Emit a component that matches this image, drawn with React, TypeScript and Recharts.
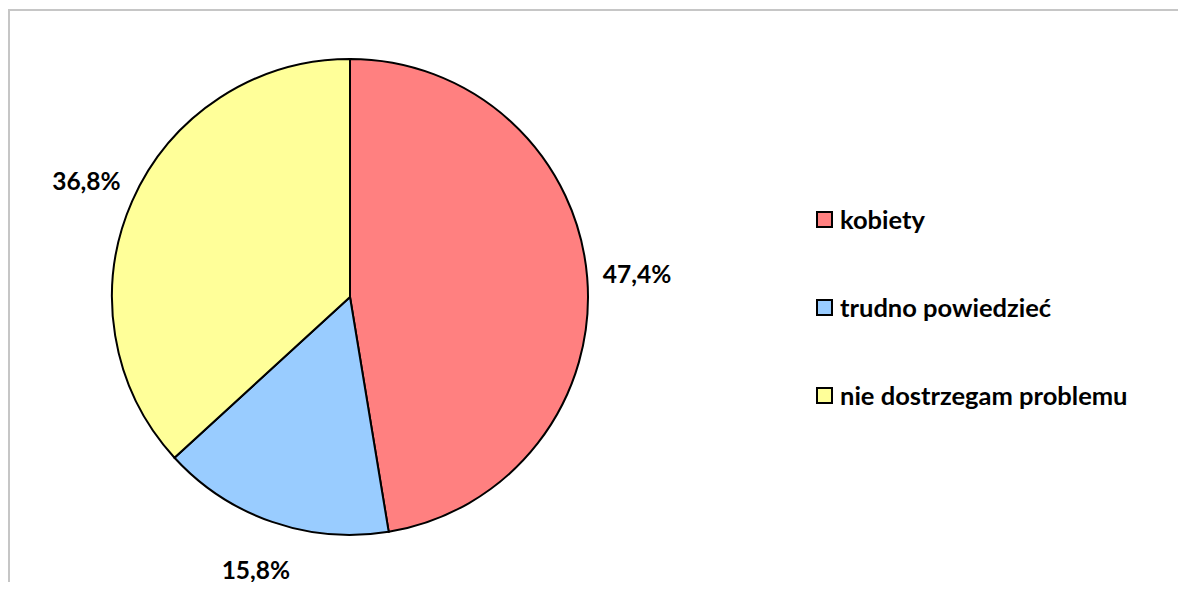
import { PieChart, Pie, Cell, Legend } from "recharts";

const categories = ["kobiety", "trudno powiedzieć", "nie dostrzegam problemu"];
const shares = [47.4, 15.8, 36.8];
const colors = ["#FF8080", "#99CCFF", "#FFFF99"];

const data = categories.map((name, i) => ({ name, value: shares[i] }));

const RAD = Math.PI / 180;
const FONT = "Lato, 'Open Sans', sans-serif";

const renderLabel = (props: any) => {
    const { cx, cy, midAngle, outerRadius, value } = props;
    const r = outerRadius + 50;
    const x = cx + r * Math.cos(-midAngle * RAD);
    const y = cy + r * Math.sin(-midAngle * RAD);
    return (
        <text
            x={x}
            y={y}
            textAnchor="middle"
            dominantBaseline="central"
            fontFamily={FONT}
            fontWeight={700}
            fontSize={24.5}
            fill="#000"
        >
            {value.toFixed(1).replace(".", ",")}%
        </text>
    );
};

const renderLegend = (props: any) => {
    const { payload } = props;
    return (
        <div style={{ fontFamily: FONT, fontWeight: 700, fontSize: 25.5, color: "#000" }}>
            {payload.map((entry: any, i: number) => (
                <div key={i} style={{ display: "flex", alignItems: "center", height: 32, marginBottom: 56 }}>
                    <span
                        style={{
                            display: "inline-block",
                            width: 13,
                            height: 13,
                            background: colors[i],
                            border: "2px solid #000",
                            marginRight: 7,
                        }}
                    />
                    <span>{categories[i]}</span>
                </div>
            ))}
        </div>
    );
};

export default function App() {
    return (
        <div style={{ position: "relative", width: 1186, height: 590, margin: -8, background: "#fff", overflow: "hidden" }}>
            <div
                style={{
                    position: "absolute",
                    left: 8,
                    top: 9,
                    width: 1200,
                    height: 600,
                    borderTop: "2px solid #c6c6c6",
                    borderLeft: "2px solid #c6c6c6",
                }}
            />
            <PieChart
                width={1186}
                height={590}
                margin={{ top: 0, right: 0, bottom: 0, left: 0 }}
                style={{ position: "absolute", left: 0, top: 0 }}
            >
                <Pie
                    data={data}
                    dataKey="value"
                    nameKey="name"
                    cx={350}
                    cy={297}
                    outerRadius={238}
                    startAngle={90}
                    endAngle={-270}
                    stroke="#000"
                    strokeWidth={2}
                    label={renderLabel}
                    labelLine={false}
                    isAnimationActive={false}
                >
                    {data.map((_, i) => (
                        <Cell key={i} fill={colors[i]} />
                    ))}
                </Pie>
                <Legend
                    layout="vertical"
                    verticalAlign="top"
                    align="right"
                    content={renderLegend}
                    wrapperStyle={{ position: "absolute", left: 816, top: 203, width: 360 }}
                />
            </PieChart>
        </div>
    );
}
